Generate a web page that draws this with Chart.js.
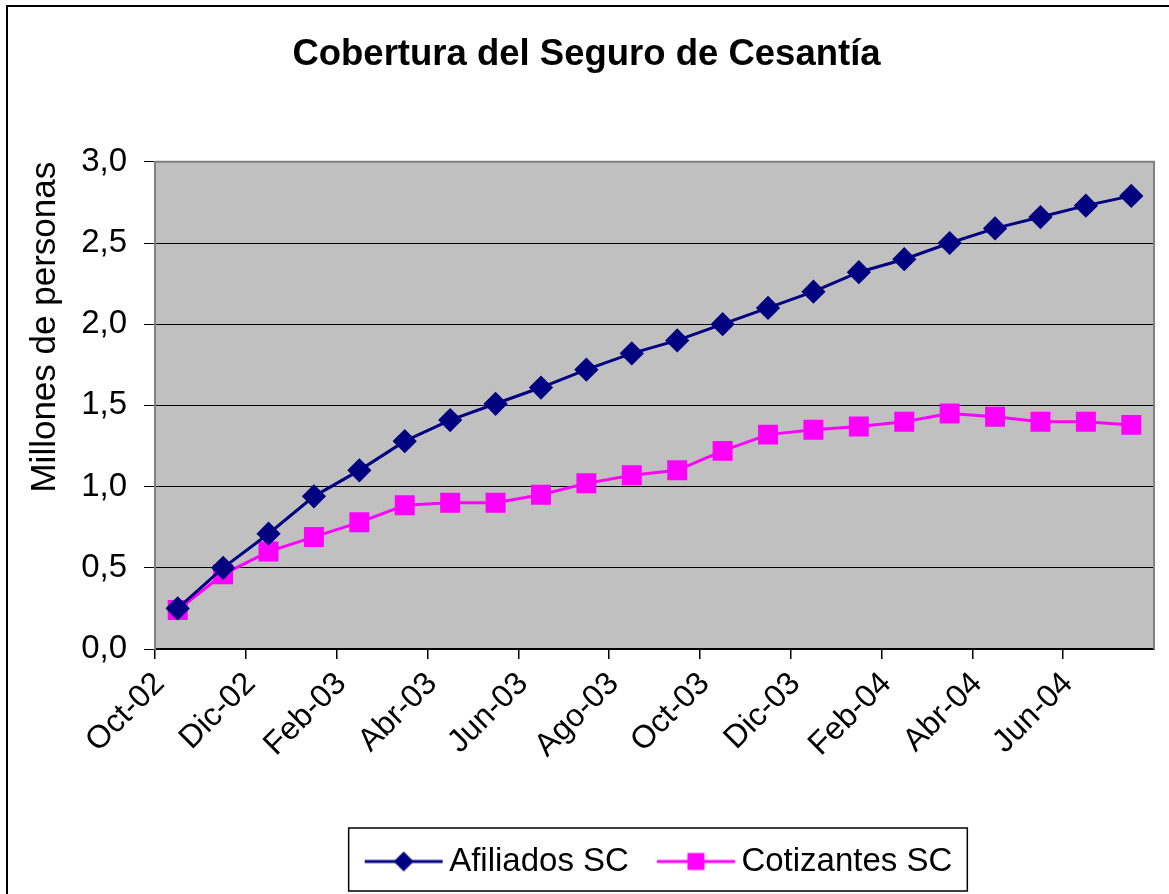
<!DOCTYPE html>
<html>
<head>
<meta charset="utf-8">
<script src="https://cdn.jsdelivr.net/npm/chart.js@4/dist/chart.umd.min.js"></script>
<style>
  html, body { margin: 0; padding: 0; background: #fff; }
  #wrap {
    position: absolute; left: 6px; top: 5px;
    width: 1170px; height: 900px;
    border-left: 2px solid #000; border-top: 2px solid #000;
  }
  canvas { position: absolute; left: -8px; top: -7px; }
</style>
</head>
<body>
<div id="wrap"><canvas id="chart" width="1169" height="894"></canvas></div>
<script>
// --- Data ---
const meses = ['Oct-02', 'Nov-02', 'Dic-02', 'Ene-03', 'Feb-03', 'Mar-03', 'Abr-03', 'May-03',
    'Jun-03', 'Jul-03', 'Ago-03', 'Sep-03', 'Oct-03', 'Nov-03', 'Dic-03', 'Ene-04',
    'Feb-04', 'Mar-04', 'Abr-04', 'May-04', 'Jun-04', 'Jul-04'];
const afiliados = [0.25, 0.50, 0.71, 0.94, 1.10, 1.28, 1.41, 1.51, 1.61, 1.72, 1.82, 1.90,
    2.00, 2.10, 2.20, 2.32, 2.40, 2.50, 2.59, 2.66, 2.73, 2.79];
const cotizantes = [0.24, 0.46, 0.60, 0.69, 0.78, 0.885, 0.90, 0.90, 0.95, 1.02, 1.07, 1.10,
    1.22, 1.32, 1.35, 1.37, 1.40, 1.45, 1.43, 1.40, 1.40, 1.38];
const yTicks = [0, 0.5, 1.0, 1.5, 2.0, 2.5, 3.0];

const FONT = 'Arial, "Liberation Sans", sans-serif';

// legend swatch: line with the marker on it (line sits off-centre so text hugs it)
function swatch(color, shape) {
    const c = document.createElement('canvas');
    c.width = 100; c.height = 24;
    const g = c.getContext('2d');
    const x0 = 20, x1 = 98, mx = 59;
    g.strokeStyle = color; g.lineWidth = 3;
    g.beginPath(); g.moveTo(x0, 12); g.lineTo(x1, 12); g.stroke();
    g.fillStyle = color;
    g.beginPath();
    if (shape === 'diamond') {
        g.moveTo(mx, 2); g.lineTo(mx + 10, 12); g.lineTo(mx, 22); g.lineTo(mx - 10, 12);
    } else {
        g.rect(mx - 8.5, 3.5, 17, 17);
    }
    g.closePath(); g.fill();
    return c;
}
const swA = swatch('#000080', 'diamond');
const swC = swatch('#FF00FF', 'square');

// gray plot area + border, box round the legend
const plotBg = {
    id: 'plotBg',
    beforeDraw(chart) {
        const { ctx, chartArea: a } = chart;
        ctx.save();
        ctx.fillStyle = '#C0C0C0';
        ctx.fillRect(a.left, a.top, a.right - a.left, a.bottom - a.top);
        ctx.restore();
    },
    afterDatasetsDraw(chart) {
        const { ctx, chartArea: a } = chart;
        ctx.save();
        ctx.strokeStyle = '#808080'; ctx.lineWidth = 2;
        ctx.beginPath();
        ctx.moveTo(a.left, a.top); ctx.lineTo(a.right, a.top); ctx.lineTo(a.right, a.bottom);
        ctx.stroke();
        ctx.restore();
    },
    afterDraw(chart) {
        const boxes = chart.legend.legendHitBoxes;
        if (!boxes || !boxes.length) return;
        const last = boxes[boxes.length - 1];
        const l = boxes[0].left - 8;
        const r = last.left + last.width + 15;
        const t = boxes[0].top - 17, b = boxes[0].top + boxes[0].height + 13;
        const ctx = chart.ctx;
        ctx.save();
        ctx.strokeStyle = '#000'; ctx.lineWidth = 1.5;
        ctx.strokeRect(l, t, r - l, b - t);
        ctx.restore();
    }
};

new Chart(document.getElementById('chart'), {
    type: 'line',
    data: {
        labels: meses,
        datasets: [
            {
                label: 'Afiliados SC', data: afiliados,
                borderColor: '#000080', backgroundColor: '#000080', borderWidth: 3,
                pointStyle: 'rectRot', pointRadius: 10, pointHoverRadius: 10,
                tension: 0
            },
            {
                label: 'Cotizantes SC', data: cotizantes,
                borderColor: '#FF00FF', backgroundColor: '#FF00FF', borderWidth: 3,
                pointStyle: 'rect', pointRadius: 12, pointHoverRadius: 12,
                tension: 0
            }
        ]
    },
    options: {
        responsive: false,
        animation: false,
        layout: { padding: { left: 8, right: 4, top: 0, bottom: 6 } },
        scales: {
            x: {
                offset: true,
                border: { color: '#000', width: 2 },
                grid: {
                    offset: true, drawOnChartArea: false, tickLength: 10, lineWidth: 1.5,
                    color: c => (c.index % 2 === 0 ? '#000' : 'rgba(0,0,0,0)')
                },
                ticks: {
                    autoSkip: false, maxRotation: 45, minRotation: 45,
                    color: '#000', font: { family: FONT, size: 32 }, padding: 6,
                    labelOffset: -18,
                    callback: (v, i) => (i % 2 === 0 ? meses[i] : '')
                },
                afterFit: s => { s.height = 176; }
            },
            y: {
                min: 0, max: 3,
                border: { color: '#808080', width: 2 },
                grid: { color: '#000', lineWidth: 1, tickLength: 11 },
                afterBuildTicks: s => { s.ticks = yTicks.map(v => ({ value: v })); },
                ticks: {
                    color: '#000', font: { family: FONT, size: 33 }, padding: 17,
                    callback: v => v.toFixed(1).replace('.', ',')
                },
                title: {
                    display: true, text: 'Millones de personas', color: '#000', align: 'end',
                    font: { family: FONT, size: 35 }, padding: { top: 16, bottom: 0 }
                },
                afterFit: s => { s.width = 147; }
            }
        },
        plugins: {
            title: {
                display: true, text: 'Cobertura del Seguro de Cesantía', color: '#000',
                font: { family: FONT, size: 36.5, weight: 'bold' },
                padding: { top: 33, bottom: 85 }
            },
            legend: {
                position: 'bottom',
                fullSize: false,
                labels: {
                    color: '#000', font: { family: FONT, size: 33 },
                    usePointStyle: true, pointStyleWidth: 76, boxHeight: 24, padding: 20,
                    generateLabels: chart => chart.data.datasets.map((d, i) => ({
                        text: d.label, pointStyle: i === 0 ? swA : swC,
                        fillStyle: d.borderColor, strokeStyle: d.borderColor,
                        lineWidth: 0, datasetIndex: i, hidden: false
                    }))
                }
            },
            tooltip: { enabled: false }
        }
    },
    plugins: [plotBg]
});
</script>
</body>
</html>
